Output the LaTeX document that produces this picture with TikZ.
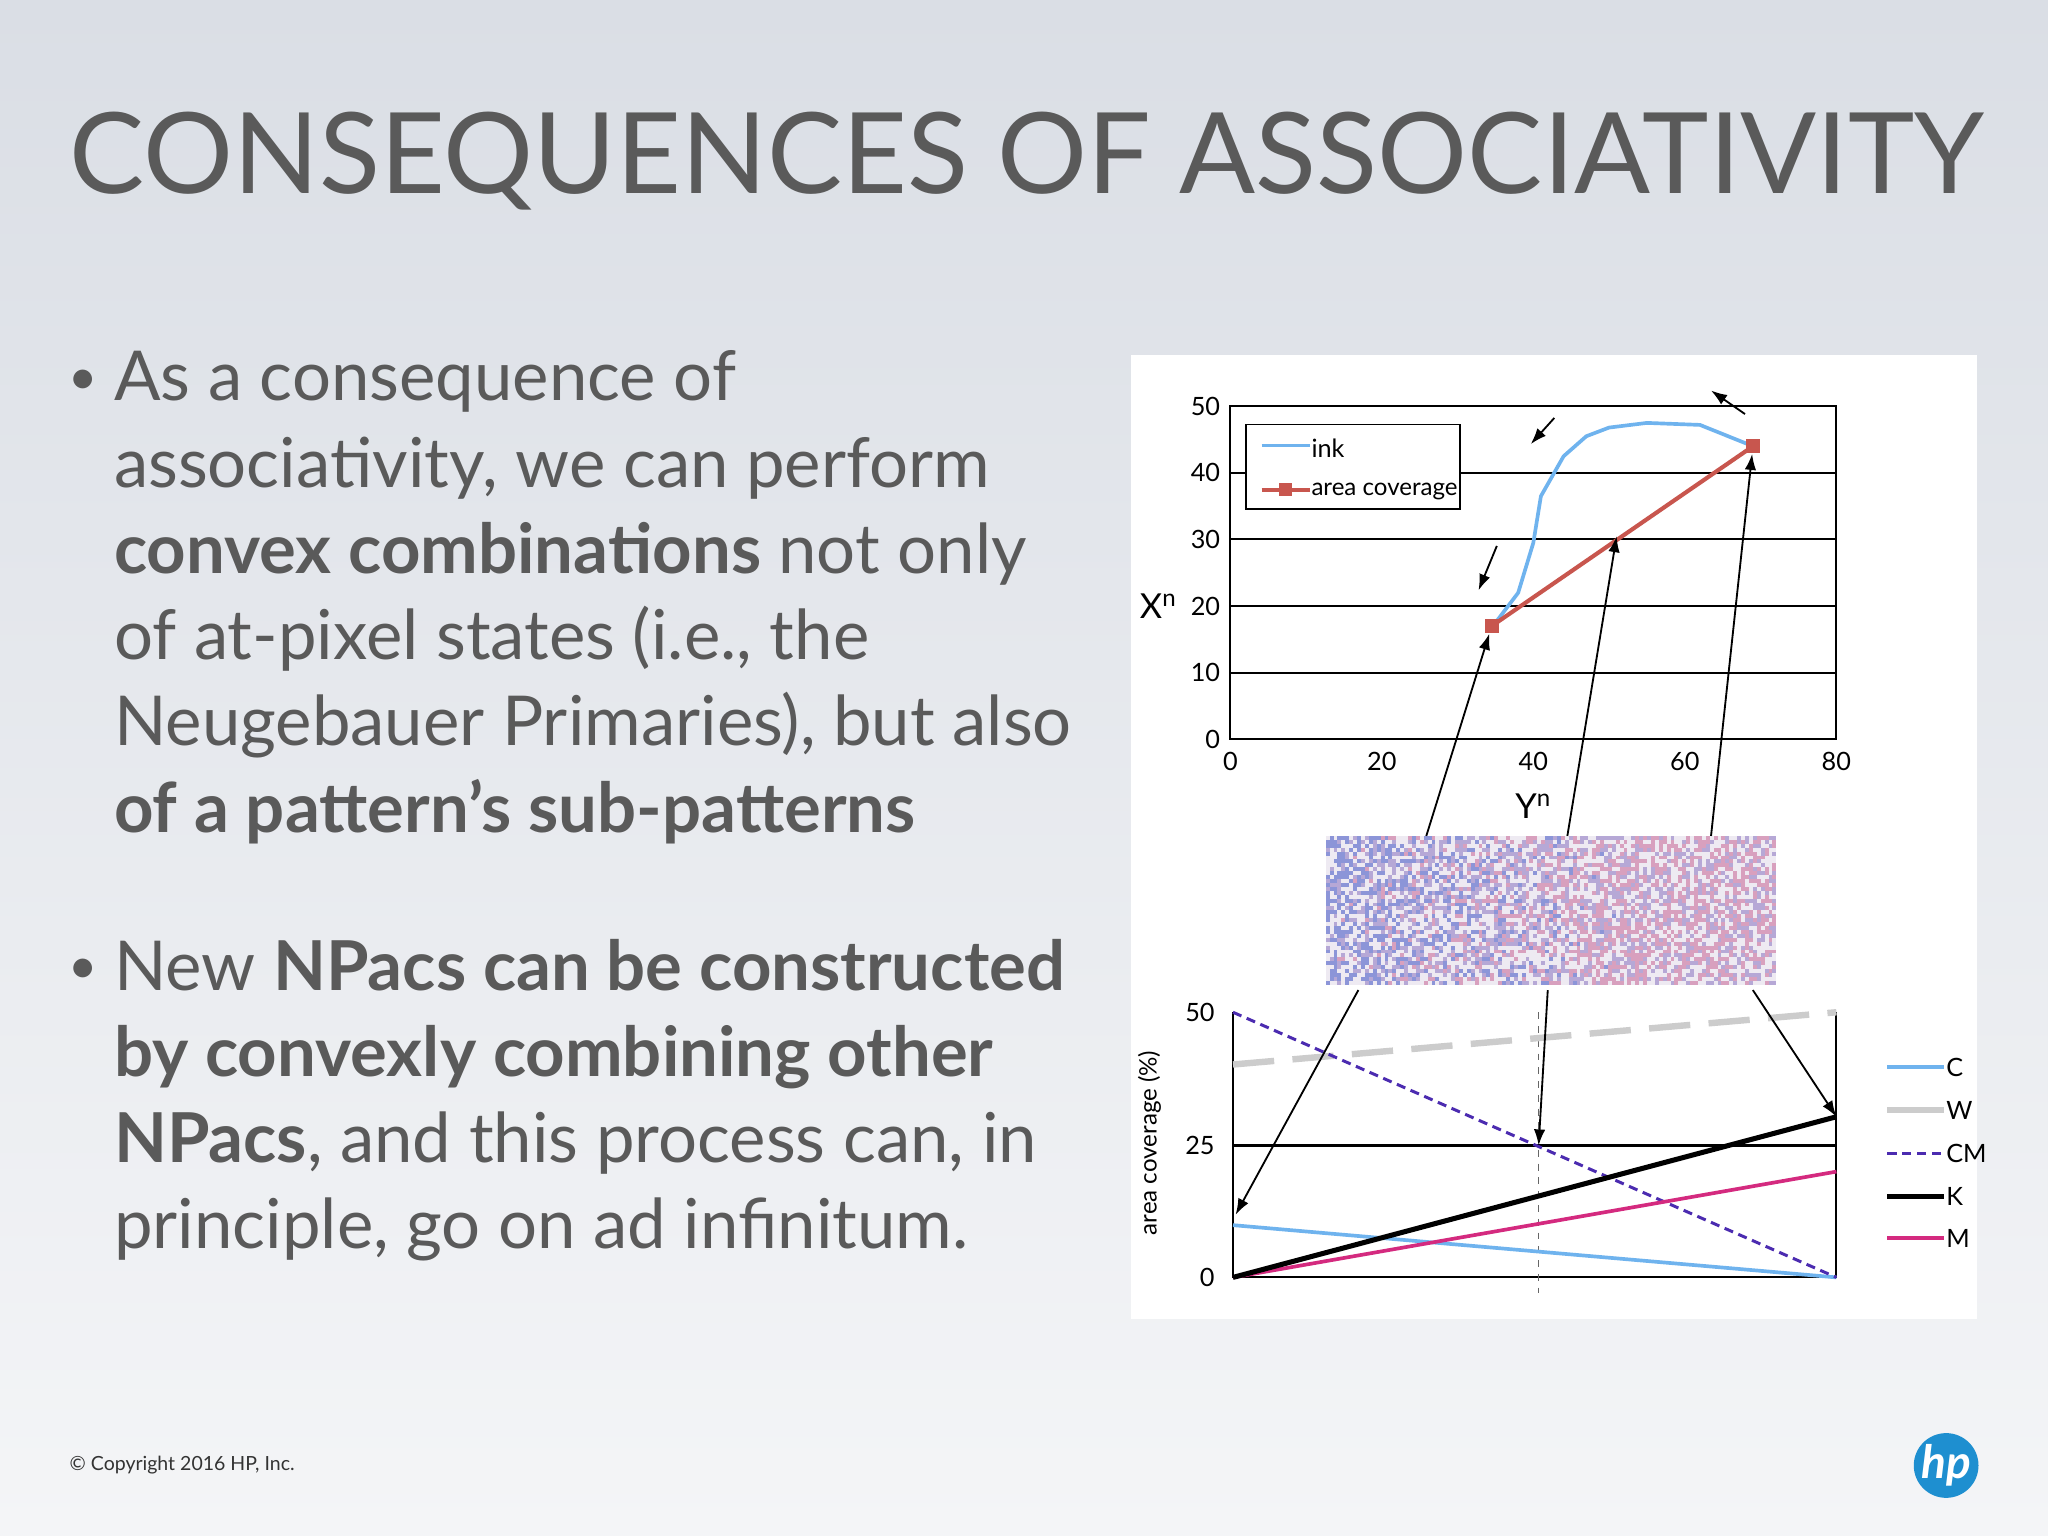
\documentclass[tikz,border=0pt]{standalone}
\usepackage{fontspec}
\usetikzlibrary{arrows.meta}
\setmainfont{Lato}
\setsansfont{Lato}
\begin{document}
\begin{tikzpicture}[x=0.02cm,y=-0.02cm,
  body/.style={anchor=base west,text=txt,font=\fontsize{30}{36}\selectfont,inner sep=0},
  tick/.style={font=\fontsize{11}{12}\selectfont,inner sep=1pt},
  grid/.style={black,line width=0.9pt},
  arr/.style={-{Latex[length=7pt,width=5pt]},line width=0.8pt},
  lg/.style={font=\fontsize{11}{12}\selectfont,anchor=west,inner sep=1pt}]
\definecolor{txt}{HTML}{5A5A5A}
\definecolor{ink}{HTML}{6FB3EE}
\definecolor{ac}{HTML}{C8564E}
\definecolor{cmc}{HTML}{4B2BB0}
\definecolor{mg}{HTML}{D42A7F}
\definecolor{bgt}{HTML}{DADEE5}
\definecolor{bgb}{HTML}{F4F5F7}
\definecolor{hpb}{HTML}{1E8FD0}
\definecolor{pblue}{HTML}{8C95D8}
\definecolor{ppink}{HTML}{D8A0BE}
\definecolor{pviol}{HTML}{B6A8D6}
\definecolor{pwhite}{HTML}{EEEAF2}
\useasboundingbox (0,0) rectangle (1568,1176);
\shade[top color=bgt,bottom color=bgb] (0,0) rectangle (1568,1176);
\node[anchor=base west,text=txt,font=\fontsize{49}{52}\selectfont,inner sep=0] (title) at (53,148) {CONSEQUENCES OF ASSOCIATIVITY};
% bullets
\node[body,font=\fontsize{22}{24}\selectfont] (b1) at (52,302) {•};
\node[body] (l1) at (87,307) {As a consequence of};
\node[body] (l2) at (87,373) {associativity, we can perform};
\node[body] (l3) at (87,439) {\textbf{convex combinations} not only};
\node[body] (l4) at (87,505) {of at-pixel states (i.e., the};
\node[body] (l5) at (87,571) {Neugebauer Primaries), but also};
\node[body] (l6) at (87,637) {\textbf{of a pattern’s sub-patterns}};
\node[body,font=\fontsize{22}{24}\selectfont] (b2) at (52,753) {•};
\node[body] (m1) at (87,758) {New \textbf{NPacs can be constructed}};
\node[body] (m2) at (87,824) {\textbf{by convexly combining other}};
\node[body] (m3) at (87,890) {\textbf{NPacs}, and this process can, in};
\node[body] (m4) at (87,956) {principle, go on ad infinitum.};
\node[anchor=west,font=\fontsize{8.5}{10}\selectfont,text=black!80,inner sep=0] (copy) at (53,1122) {© Copyright 2016 HP, Inc.};
\node[circle,fill=hpb,inner sep=0,minimum size=0.9cm,text=white,font=\bfseries\itshape\fontsize{20}{20}\selectfont] (hp) at (1490,1122) {hp};
% panel
\fill[white] (866,272) rectangle (1514,1010);
% top chart
\begin{scope}[shift={(942,566)},x=0.116cm,y=0.102cm]
  \foreach \v in {10,20,...,50} \draw[grid] (0,\v) -- (80,\v);
  \draw[grid] (0,0) rectangle (80,50);
  \foreach \v in {0,10,...,50} \node[tick,anchor=east] (ty\v) at (-1,\v) {\v};
  \foreach \v in {0,20,...,80} \node[tick,anchor=north] (tx\v) at (\v,-1.5) {\v};
  \draw[ink,line width=1.6pt,line join=round] (35,17.5) -- (38,22) -- (40,29.5) -- (41,36.5) -- (44,42.5) -- (47,45.5) -- (50,46.8) -- (55,47.5) -- (62,47.2) -- (69,44);
  \draw[ac,line width=1.8pt] (34.5,17) -- (69,44);
  \node[fill=ac,minimum size=0.22cm,inner sep=0] (p1) at (34.5,17) {};
  \node[fill=ac,minimum size=0.22cm,inner sep=0] (p2) at (69,44) {};
  \coordinate (pm) at (51,30.5);
  \node[font=\fontsize{15}{15}\selectfont] (xl) at (-9.5,20) {X\textsuperscript{n}};
  \node[font=\fontsize{15}{15}\selectfont] (yl) at (40,-10) {Y\textsuperscript{n}};
\end{scope}
\draw[black,line width=0.8pt,fill=white] (954,325) rectangle (1118,390);
\draw[ink,line width=1.6pt] (966,341) -- (1003,341);
\node[lg] (lgi) at (1002,343) {ink};
\draw[ac,line width=1.8pt] (966,375) -- (1003,375);
\node[fill=ac,minimum size=0.2cm,inner sep=0] (lgm) at (984,375) {};
\node[lg,font=\fontsize{10.5}{12}\selectfont] (lga) at (1002,376) {area coverage};
% small arrows
\coordinate (s1a) at (1190,320); \coordinate (s1b) at (1172,340);
\draw[arr] (s1a) -- (s1b);
\coordinate (s2a) at (1146,418); \coordinate (s2b) at (1132,452);
\draw[arr] (s2a) -- (s2b);
\coordinate (s3a) at (1336,317); \coordinate (s3b) at (1310,299);
\draw[arr] (s3a) -- (s3b);
% pattern
\pgfmathsetseed{7}
\foreach \i in {0,...,114} {
  \foreach \j in {0,...,37} {
    \pgfmathsetmacro{\t}{\i/114}
    \pgfmathsetmacro{\r}{rnd}
    \pgfmathsetmacro{\bl}{max(0,1-1.5*\t)}
    \pgfmathsetmacro{\pk}{min(1,1.5*\t)}
    \pgfmathtruncatemacro{\cr}{ifthenelse(\r<0.4*\bl,1,ifthenelse(\r<0.4*\bl+0.35*\pk,2,ifthenelse(\r<0.6,3,4)))}
    \ifcase\cr\relax\or
      \fill[pblue] (1015+3*\i,640+3*\j) rectangle ++(3,3);
    \or
      \fill[ppink] (1015+3*\i,640+3*\j) rectangle ++(3,3);
    \or
      \fill[pviol] (1015+3*\i,640+3*\j) rectangle ++(3,3);
    \or
      \fill[pwhite] (1015+3*\i,640+3*\j) rectangle ++(3,3);
    \fi
  }
}
\coordinate (pa) at (1092,640); \coordinate (pb) at (1200,640); \coordinate (pc) at (1310,640);
\draw[arr] (pa) -- (p1);
\draw[arr] (pb) -- (pm);
\draw[arr] (pc) -- (p2);
% bottom chart
\coordinate (bl) at (944,978); \coordinate (br) at (1406,978);
\draw[grid] (944,877) -- (1406,877);
\draw[grid] (944,775) -- (944,978) -- (1406,978) -- (1406,775);
\node[tick,anchor=east] (b0) at (932,978) {0};
\node[tick,anchor=east] (b25) at (932,877) {25};
\node[tick,anchor=east] (b50) at (932,775) {50};
\node[rotate=90,font=\fontsize{10.5}{12}\selectfont] (byl) at (880,875) {area coverage (\%)};
\draw[black!60,line width=0.6pt,dash pattern=on 3pt off 3pt] (1178,775) -- (1178,990);
\draw[black!20,line width=2.8pt,dash pattern=on 18pt off 8pt] (944,815) -- (1406,775);
\draw[ink,line width=1.6pt] (944,938) -- (br);
\draw[cmc,line width=1.3pt,dash pattern=on 4pt off 2.5pt] (944,775) -- (br);
\draw[mg,line width=1.6pt] (bl) -- (1406,897);
\draw[black,line width=2.2pt] (bl) -- (1406,855);
\coordinate (q1) at (946,930); \coordinate (q2) at (1178,877); \coordinate (q3) at (1406,855);
\coordinate (qa) at (1040,758); \coordinate (qb) at (1185,758); \coordinate (qc) at (1342,758);
\draw[arr] (qa) -- (q1);
\draw[arr] (qb) -- (q2);
\draw[arr] (qc) -- (q3);
% right legend
\draw[ink,line width=1.6pt] (1445,817) -- (1488,817); \node[lg] (lc) at (1488,817) {C};
\draw[black!20,line width=2.8pt] (1445,850) -- (1488,850); \node[lg] (lw) at (1488,850) {W};
\draw[cmc,line width=1.3pt,dash pattern=on 4pt off 2.5pt] (1445,883) -- (1488,883); \node[lg] (lcm) at (1488,883) {CM};
\draw[black,line width=2.2pt] (1445,916) -- (1488,916); \node[lg] (lk) at (1488,916) {K};
\draw[mg,line width=1.6pt] (1445,948) -- (1488,948); \node[lg] (lmm) at (1488,948) {M};
\end{tikzpicture}
\end{document}
